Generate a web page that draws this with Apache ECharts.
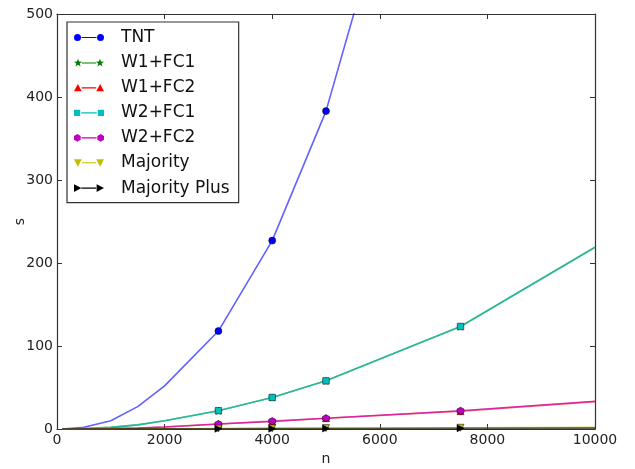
<!DOCTYPE html>
<html>
<head>
<meta charset="utf-8">
<script src="https://cdn.jsdelivr.net/npm/echarts@6/dist/echarts.min.js"></script>
<style>
html,body{margin:0;padding:0;background:#fff;}
#chart{width:635px;height:469px;}
</style>
</head>
<body>
<div id="chart"></div>
<script>
// ---- data ----
var nValues = [100, 500, 1000, 1500, 2000, 3000, 4000, 5000, 7500, 10000];
var markedN = [3000, 4000, 5000, 7500];
var seriesNames = ['TNT', 'W1+FC1', 'W1+FC2', 'W2+FC1', 'W2+FC2', 'Majority', 'Majority Plus'];
var tnt      = [0, 2, 10, 27, 52, 118, 227, 383, 950, 1900];
var w1fc1    = [0, 0.5, 2, 5, 10, 22, 38, 58, 123.5, 219];
var w1fc2    = [0, 0.1, 0.5, 1.2, 2.5, 6, 9, 13, 21.5, 33];
var w2fc1    = [0, 0.5, 2, 5, 10, 22, 38, 58, 123.5, 219];
var w2fc2    = [0, 0.1, 0.5, 1.2, 2.5, 6, 9.5, 13, 22, 33.5];
var majority = [0, 0, 0.1, 0.2, 0.3, 0.5, 0.8, 1.1, 1.5, 2];
var majPlus  = [0, 0, 0.05, 0.1, 0.15, 0.3, 0.4, 0.6, 0.8, 1];
var xTicks = [0, 2000, 4000, 6000, 8000, 10000];
var yTicks = [0, 100, 200, 300, 400, 500];

// ---- styles ----
var colors = ['#0000ff', '#008000', '#ff0000', '#00bfbf', '#bf00bf', '#bfbf00', '#000000'];
var lineColors = ['rgba(0,0,255,0.62)', 'rgba(0,128,0,0.62)', 'rgba(255,0,0,0.62)', 'rgba(0,191,191,0.62)',
                  'rgba(191,0,191,0.62)', 'rgba(191,191,0,0.62)', 'rgba(0,0,0,0.62)'];

function starPts(cx, cy, R, r) {
  var s = '';
  for (var i = 0; i < 10; i++) {
    var a = -Math.PI / 2 + i * Math.PI / 5;
    var rr = (i % 2 === 0) ? R : r;
    s += (i === 0 ? 'M' : 'L') + (cx + rr * Math.cos(a)).toFixed(2) + ',' + (cy + rr * Math.sin(a)).toFixed(2);
  }
  return s + 'Z';
}
function hexPts(cx, cy, R) {
  var s = '';
  for (var i = 0; i < 6; i++) {
    var a = -Math.PI / 2 + i * Math.PI / 3;
    s += (i === 0 ? 'M' : 'L') + (cx + R * Math.cos(a)).toFixed(2) + ',' + (cy + R * Math.sin(a)).toFixed(2);
  }
  return s + 'Z';
}
function circ(cx, cy, r) {
  return 'M' + (cx - r) + ',' + cy + 'a' + r + ',' + r + ' 0 1,1 ' + (2 * r) + ',0a' + r + ',' + r + ' 0 1,1 ' + (-2 * r) + ',0Z';
}
var markerFns = [
  function (cx, cy) { return circ(cx, cy, 3.5); },
  function (cx, cy) { return starPts(cx, cy, 4.5, 1.9); },
  function (cx, cy) { return 'M' + (cx - 4) + ',' + (cy + 3.5) + 'L' + cx + ',' + (cy - 4) + 'L' + (cx + 4) + ',' + (cy + 3.5) + 'Z'; },
  function (cx, cy) { return 'M' + (cx - 3) + ',' + (cy - 3) + 'L' + (cx + 3) + ',' + (cy - 3) + 'L' + (cx + 3) + ',' + (cy + 3) + 'L' + (cx - 3) + ',' + (cy + 3) + 'Z'; },
  function (cx, cy) { return hexPts(cx, cy, 3.8); },
  function (cx, cy) { return 'M' + (cx - 4) + ',' + (cy - 3.5) + 'L' + (cx + 4) + ',' + (cy - 3.5) + 'L' + cx + ',' + (cy + 4) + 'Z'; },
  function (cx, cy) { return 'M' + (cx - 3.5) + ',' + (cy - 4) + 'L' + (cx + 4) + ',' + cy + 'L' + (cx - 3.5) + ',' + (cy + 4) + 'Z'; }
];
function seriesSymbol(i) { return 'path://' + markerFns[i](5, 5); }
function legendIcon(i) {
  // two markers at the ends, joined by a line
  return 'path://' + markerFns[i](4.5, 5) + markerFns[i](27.5, 5) + 'M8.5,4.4L23.5,4.4L23.5,5.6L8.5,5.6Z';
}

var allData = [tnt, w1fc1, w1fc2, w2fc1, w2fc2, majority, majPlus];
var series = seriesNames.map(function (name, i) {
  return {
    name: name,
    type: 'line',
    xAxisIndex: 0,
    yAxisIndex: 0,
    symbol: seriesSymbol(i),
    symbolSize: i === 3 ? 6.5 : 7,
    showAllSymbol: true,
    clip: true,
    animation: false,
    lineStyle: { color: lineColors[i], width: 1.6 },
    itemStyle: { color: colors[i], borderColor: '#000', borderWidth: 0.5, opacity: 1 },
    emphasis: { disabled: true },
    data: nValues.map(function (n, k) {
      var item = { value: [n, allData[i][k]] };
      if (markedN.indexOf(n) < 0) item.symbol = 'none';
      return item;
    })
  };
});

var font = 'DejaVu Sans';
var axisLine = { show: true, onZero: false, lineStyle: { color: '#333', width: 1.2 } };
var tick = { show: true, inside: true, length: 5, lineStyle: { color: '#333', width: 1 } };

var option = {
  backgroundColor: '#fff',
  animation: false,
  textStyle: { fontFamily: font },
  grid: { left: 57, right: 40, top: 14, bottom: 40, containLabel: false, outerBoundsMode: 'none' },
  legend: {
    orient: 'vertical',
    left: 67,
    top: 22,
    itemWidth: 30,
    itemHeight: 9,
    itemGap: 8.1,
    padding: [7, 9, 6, 7],
    borderColor: '#333',
    borderWidth: 1.2,
    backgroundColor: '#fff',
    itemStyle: { borderWidth: 0 },
    textStyle: { fontFamily: font, fontSize: 17, color: '#111', padding: [0, 0, 0, 12] },
    selectedMode: false,
    data: seriesNames.map(function (name, i) { return { name: name, icon: legendIcon(i) }; })
  },
  xAxis: [
    {
      type: 'value', position: 'bottom', min: 0, max: 10000, interval: 2000,
      name: 'n', nameLocation: 'middle', nameGap: 23, nameMoveOverlap: false,
      nameTextStyle: { fontFamily: font, fontSize: 14, color: '#222' },
      axisLine: axisLine, axisTick: tick, splitLine: { show: false },
      axisLabel: { fontFamily: font, fontSize: 14, color: '#222', margin: 4,
        formatter: function (v) { return xTicks.indexOf(v) >= 0 ? String(v) : ''; } }
    },
    {
      type: 'value', position: 'top', min: 0, max: 10000, interval: 2000,
      axisLine: axisLine, axisTick: tick, splitLine: { show: false }, axisLabel: { show: false }
    }
  ],
  yAxis: [
    {
      type: 'value', position: 'left', min: 0, max: 500, interval: 100,
      name: 's', nameLocation: 'middle', nameGap: 30, nameRotate: 90, nameMoveOverlap: false,
      nameTextStyle: { fontFamily: font, fontSize: 14, color: '#222' },
      axisLine: axisLine, axisTick: tick, splitLine: { show: false },
      axisLabel: { fontFamily: font, fontSize: 14, color: '#222', margin: 4,
        formatter: function (v) { return yTicks.indexOf(v) >= 0 ? String(v) : ''; } }
    },
    {
      type: 'value', position: 'right', min: 0, max: 500, interval: 100,
      axisLine: axisLine, axisTick: tick, splitLine: { show: false }, axisLabel: { show: false }
    }
  ],
  series: series
};

var chart = echarts.init(document.getElementById('chart'), null, { renderer: 'canvas' });
chart.setOption(option);
</script>
</body>
</html>
